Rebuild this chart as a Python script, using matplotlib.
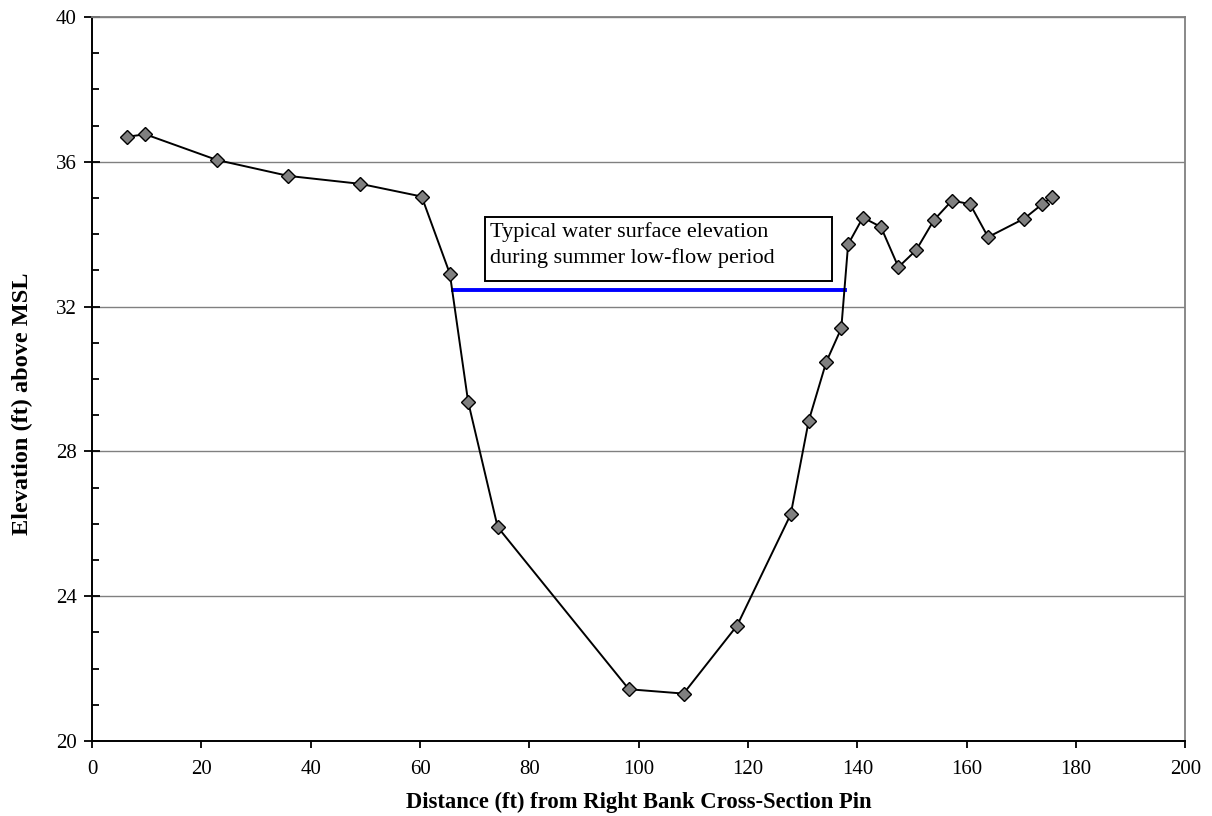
import matplotlib.pyplot as plt
from matplotlib.patches import Rectangle
from matplotlib.ticker import MultipleLocator

plt.rcParams['font.family'] = ['Liberation Serif', 'DejaVu Serif']

# surveyed cross-section points
distance = [6.4, 9.75, 22.85, 35.9, 49.1, 60.3, 65.45, 68.8, 74.2, 98.2, 108.2,
            118.0, 127.8, 131.1, 134.3, 137.05, 138.3, 141.0, 144.3, 147.5,
            150.75, 154.0, 157.3, 160.6, 163.9, 170.5, 173.8, 175.6]
elevation = [36.69, 36.76, 36.05, 35.61, 35.39, 35.04, 32.91, 29.37, 25.91,
             21.43, 21.31, 23.19, 26.26, 28.85, 30.47, 31.40, 33.72, 34.46,
             34.20, 33.09, 33.56, 34.39, 34.93, 34.83, 33.92, 34.43, 34.83, 35.03]

# typical summer water surface
water_x = [66.0, 137.7]
water_y = [32.45, 32.45]

fig = plt.figure(figsize=(12.12, 8.16), dpi=100)
ax = fig.add_axes([0.0759, 0.0919, 0.9022, 0.8873])

ax.plot(water_x, water_y, color='#0000ff', lw=2.8, zorder=2)
ax.plot(distance, elevation, color='black', lw=1.4, marker='D', ms=7.5,
        mfc='#808080', mec='black', mew=1.0, zorder=3)

ax.set_xlim(0, 200)
ax.set_ylim(20, 40)
ax.xaxis.set_major_locator(MultipleLocator(20))
ax.yaxis.set_major_locator(MultipleLocator(4))
ax.yaxis.set_minor_locator(MultipleLocator(1))
ax.grid(axis='y', which='major', color='#808080', lw=1.0)
ax.set_axisbelow(True)

for s in ['top', 'right']:
    ax.spines[s].set_color('#808080')
    ax.spines[s].set_linewidth(1.3)
for s in ['left', 'bottom']:
    ax.spines[s].set_linewidth(1.4)

ax.tick_params(axis='y', which='major', direction='inout', length=12, width=1.3, labelsize=15, pad=5)
ax.tick_params(axis='y', which='minor', direction='in', length=5, width=1.3)
ax.tick_params(axis='x', which='major', direction='out', length=5, width=1.3, labelsize=15, pad=9)

ax.set_xlabel('Distance (ft) from Right Bank Cross-Section Pin', fontsize=16.3,
              fontweight='bold', labelpad=9)
ax.set_ylabel('Elevation (ft) above MSL', fontsize=17.5, fontweight='bold')
ax.yaxis.set_label_coords(-0.054, 0.4655)

# annotation box
ax.add_patch(Rectangle((71.85, 32.72), 63.55, 1.76, fill=False, ec='black', lw=1.4,
                       zorder=4, clip_on=False))
ax.text(72.76, 34.34, 'Typical water surface elevation\nduring summer low-flow period',
        fontsize=16, va='top', ha='left', linespacing=1.45, zorder=5)

fig.savefig('out.png', dpi=100)
